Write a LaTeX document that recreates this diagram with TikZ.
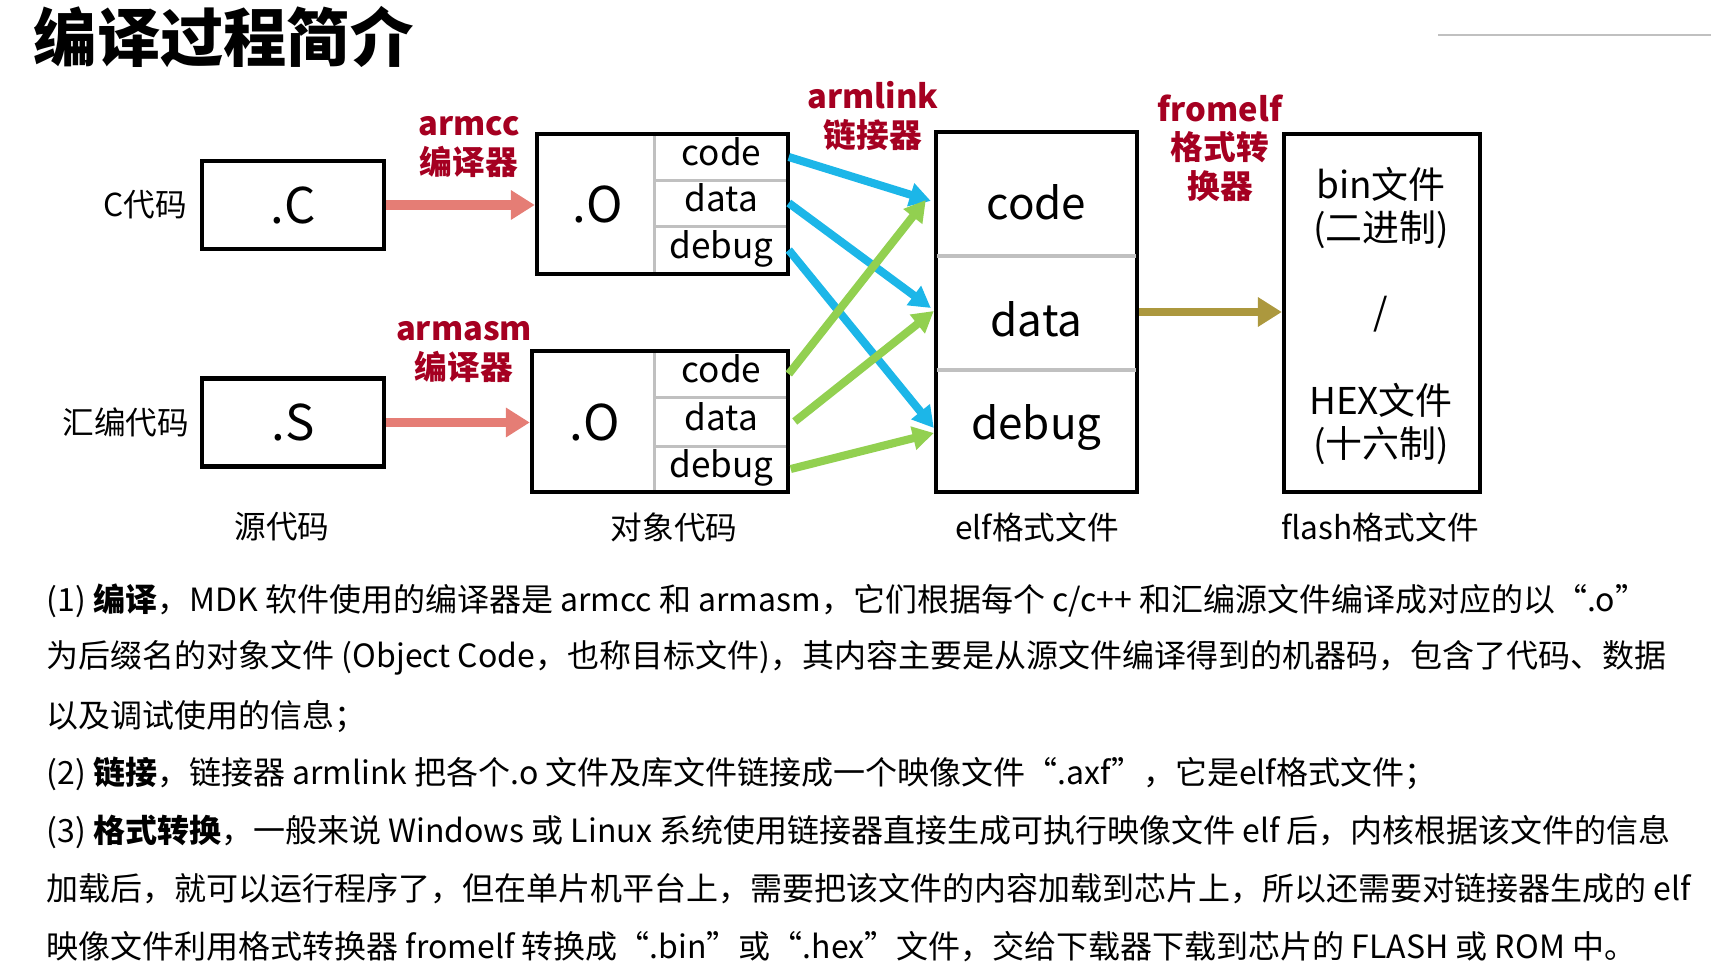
\documentclass[tikz,border=0pt]{standalone}
\usepackage{fontspec}
\setmainfont{Noto Sans CJK SC}
\usepackage{tikz}
\usetikzlibrary{arrows.meta,positioning}
\definecolor{toolred}{RGB}{165, 0, 33}
\definecolor{cmpsalmon}{RGB}{229, 125, 117}
\definecolor{linkblue}{RGB}{28, 182, 232}
\definecolor{linkgreen}{RGB}{146, 208, 80}
\definecolor{convolive}{RGB}{172, 152, 62}
\definecolor{rowgray}{RGB}{192, 192, 192}
\tikzset{
  filebox/.style={
    draw=black,
    line width=1.2pt,
    inner sep=0pt,
    align=center
  },
  rowcell/.style={
    inner sep=0pt,
    text height=0.75em,
    text depth=0.25em,
    font=\fontsize{10}{12}\selectfont
  },
  elfcell/.style={
    inner sep=0pt,
    font=\fontsize{12.5}{14}\selectfont
  },
  rowline/.style={
    draw=rowgray,
    line width=1pt
  },
  toollabel/.style={
    text=toolred,
    align=center,
    font=\fontsize{9.3}{10.9}\selectfont\bfseries
  },
  sidelabel/.style={
    inner sep=0pt,
    font=\fontsize{9}{11}\selectfont
  },
  bodyline/.style={
    anchor=west,
    inner sep=0pt,
    font=\fontsize{9.1}{11}\selectfont
  },
  cmparrow/.style={
    -{Triangle[length=6.8pt, width=8pt]},
    line width=2.6pt,
    draw=cmpsalmon
  },
  linkarrow/.style={
    -{Triangle[length=6pt, width=6.5pt]},
    line width=2.3pt
  },
  convarrow/.style={
    -{Triangle[length=6.8pt, width=8pt]},
    line width=2.4pt,
    draw=convolive
  }
}
\begin{document}
\begin{tikzpicture}[x=0.01cm, y=-0.01cm]
  \useasboundingbox (0,0) rectangle (1711,964);

  % title
  \node[anchor=west, inner sep=0pt, font=\fontsize{18}{20}\selectfont\bfseries] (title) at (33,37) {编译过程简介};
  \draw[draw=rowgray, line width=0.6pt] (1438,35) -- (1711,35);

  % source files
  \node[filebox, minimum width=1.82cm, minimum height=0.88cm, font=\fontsize{14}{16}\selectfont] (srcC) at (293,205) {.C};
  \node[filebox, minimum width=1.82cm, minimum height=0.88cm, font=\fontsize{14}{16}\selectfont] (srcS) at (293,422.5) {.S};
  \node[sidelabel, left=0.12cm of srcC] (labC) {C代码};
  \node[sidelabel, left=0.10cm of srcS] (labS) {汇编代码};

  % object file from .c
  \node[rowcell, minimum width=1.33cm, minimum height=0.46cm] (objAcode) at (721.5,157) {code};
  \node[rowcell, minimum width=1.33cm, minimum height=0.46cm] (objAdata) at (721.5,203) {data};
  \node[rowcell, minimum width=1.33cm, minimum height=0.48cm] (objAdebug) at (721.5,250) {debug};
  \draw[rowline] (objAcode.south west) -- (objAcode.south east);
  \draw[rowline] (objAdata.south west) -- (objAdata.south east);
  \draw[rowline] (objAcode.north west) -- (objAdebug.south west);
  \node[filebox, minimum width=2.51cm, minimum height=1.40cm] (objA) at (662.5,204) {};
  \node[font=\fontsize{14}{16}\selectfont] (objAname) at (598,204) {.O};

  % object file from .s
  \node[rowcell, minimum width=1.33cm, minimum height=0.46cm] (objBcode) at (721.5,374) {code};
  \node[rowcell, minimum width=1.33cm, minimum height=0.49cm] (objBdata) at (721.5,421.5) {data};
  \node[rowcell, minimum width=1.33cm, minimum height=0.46cm] (objBdebug) at (721.5,469) {debug};
  \draw[rowline] (objBcode.south west) -- (objBcode.south east);
  \draw[rowline] (objBdata.south west) -- (objBdata.south east);
  \draw[rowline] (objBcode.north west) -- (objBdebug.south west);
  \node[filebox, minimum width=2.56cm, minimum height=1.41cm] (objB) at (660,421.5) {};
  \node[font=\fontsize{14}{16}\selectfont] (objBname) at (595,422) {.O};

  % elf image
  \node[filebox, minimum width=2.01cm, minimum height=3.60cm] (elf) at (1036.5,312) {};
  \draw[rowline] ([yshift=-1.26cm, xshift=0.03cm]elf.north west) -- ([yshift=-1.26cm, xshift=-0.03cm]elf.north east);
  \draw[rowline] ([yshift=-2.40cm, xshift=0.03cm]elf.north west) -- ([yshift=-2.40cm, xshift=-0.03cm]elf.north east);
  \node[elfcell] (elfcode) at (1036.5,202) {code};
  \node[elfcell] (elfdata) at (1036.5,319) {data};
  \node[elfcell] (elfdebug) at (1036.5,428) {debug};

  % flash image
  \node[filebox, minimum width=1.96cm, minimum height=3.58cm] (flash) at (1382,313) {};
  \node[align=center, inner sep=0pt, font=\fontsize{10.5}{12.3}\selectfont] (flashbin) at (1381,208) {bin文件\\(二进制)};
  \node[inner sep=0pt, font=\fontsize{10.5}{12.3}\selectfont] (flashsep) at (1381,314) {/};
  \node[align=center, inner sep=0pt, font=\fontsize{10.5}{12.3}\selectfont] (flashhex) at (1381,424) {HEX文件\\(十六制)};

  % tools
  \node[toollabel] (armcc) at (469,147) {armcc\\编译器};
  \node[toollabel] (armasm) at (464,352) {armasm\\编译器};
  \node[toollabel] (armlink) at (873,116) {armlink\\链接器};
  \node[toollabel] (fromelf) at (1220,148) {fromelf\\格式转\\换器};

  % compile
  \draw[cmparrow] (srcC.east) -- (srcC.east -| objA.west);
  \draw[cmparrow] (srcS.east) -- (srcS.east -| objB.west);

  % link
  \draw[linkarrow, draw=linkblue] (objAcode.east) -- ([xshift=-0.03cm, yshift=0.01cm]elf.west |- elfcode);
  \draw[linkarrow, draw=linkblue] (objAdata.east) -- ([xshift=-0.03cm, yshift=0.11cm]elf.west |- elfdata);
  \draw[linkarrow, draw=linkblue] (objAdebug.east) -- ([yshift=0cm]elf.west |- elfdebug);
  \draw[linkarrow, draw=linkgreen] (objBcode.east) -- ([xshift=-0.08cm, yshift=0.02cm]elf.west |- elfcode);
  \draw[linkarrow, draw=linkgreen] ([xshift=0.06cm]objBdata.east) -- ([yshift=0.08cm]elf.west |- elfdata);
  \draw[linkarrow, draw=linkgreen] ([xshift=0.02cm]objBdebug.east) -- ([yshift=-0.05cm]elf.west |- elfdebug);

  % convert
  \draw[convarrow] (elf.east) -- (elf.east -| flash.west);

  % captions
  \node[sidelabel] (capsrc) at (282,527) {源代码};
  \node[sidelabel] (capobj) at (674,527) {对象代码};
  \node[sidelabel] (capelf) at (1037,527) {elf格式文件};
  \node[sidelabel] (capflash) at (1380,527) {flash格式文件};

  % notes
  \node[bodyline] (note1) at (46,601) {(1) \textbf{编译}，MDK 软件使用的编译器是 armcc 和 armasm，它们根据每个 c/c++ 和汇编源文件编译成对应的以“.o”};
  \node[bodyline] (note2) at (46,658) {为后缀名的对象文件 (Object Code，也称目标文件)，其内容主要是从源文件编译得到的机器码，包含了代码、数据};
  \node[bodyline] (note3) at (46,716) {以及调试使用的信息；};
  \node[bodyline] (note4) at (46,774) {(2) \textbf{链接}，链接器 armlink 把各个.o 文件及库文件链接成一个映像文件“.axf”，它是elf格式文件；};
  \node[bodyline] (note5) at (46,832) {(3) \textbf{格式转换}，一般来说 Windows 或 Linux 系统使用链接器直接生成可执行映像文件 elf 后，内核根据该文件的信息};
  \node[bodyline] (note6) at (46,889) {加载后，就可以运行程序了，但在单片机平台上，需要把该文件的内容加载到芯片上，所以还需要对链接器生成的 elf};
  \node[bodyline] (note7) at (46,947) {映像文件利用格式转换器 fromelf 转换成“.bin”或“.hex”文件，交给下载器下载到芯片的 FLASH 或 ROM 中。};
\end{tikzpicture}
\end{document}
